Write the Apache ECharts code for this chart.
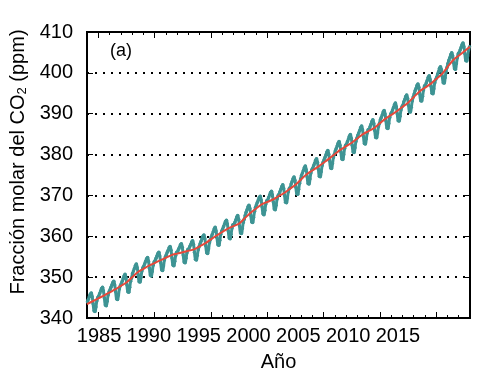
<!DOCTYPE html>
<html>
<head>
<meta charset="utf-8">
<script src="https://cdn.jsdelivr.net/npm/echarts@6/dist/echarts.min.js"></script>
<style>
html,body{margin:0;padding:0;background:#fff;}
#chart{width:492px;height:386px;}
</style>
</head>
<body>
<div id="chart"></div>
<script>
// Monthly global mean CO2 (ppm), Jan 1984 .. Dec 2017
const startYear = 1984;
const co2Monthly = [
344.0,344.6,345.2,345.8,346.1,345.2,343.5,341.8,341.6,342.7,344.2,345.0,
345.4,346.0,346.6,347.2,347.5,346.6,344.9,343.2,343.0,344.1,345.6,346.4,
346.9,347.5,348.1,348.7,349.0,348.1,346.4,344.7,344.5,345.6,347.1,347.9,
348.4,349.0,349.6,350.3,350.7,349.8,348.1,346.4,346.3,347.5,349.0,349.8,
350.9,351.5,352.1,352.8,353.2,352.3,350.6,348.9,348.8,350.0,351.5,352.3,
352.7,353.3,353.9,354.5,354.8,353.9,352.2,350.5,350.3,351.4,352.9,353.7,
354.0,354.6,355.2,355.8,356.1,355.2,353.5,351.8,351.6,352.7,354.2,355.0,
355.5,356.1,356.6,357.2,357.5,356.6,354.7,353.0,352.8,353.9,355.3,356.1,
356.2,356.8,357.3,357.9,358.2,357.3,355.4,353.7,353.5,354.6,356.0,356.8,
356.9,357.5,358.0,358.6,358.9,358.0,356.1,354.4,354.2,355.3,356.7,357.5,
358.2,358.8,359.4,360.0,360.3,359.4,357.7,356.0,355.8,356.9,358.4,359.2,
359.9,360.5,361.1,361.8,362.2,361.3,359.6,357.9,357.8,359.0,360.5,361.3,
361.8,362.4,363.0,363.6,363.9,363.0,361.3,359.6,359.4,360.5,362.0,362.8,
362.8,363.4,364.0,364.7,365.1,364.2,362.5,360.8,360.7,361.9,363.4,364.2,
365.1,365.9,366.5,367.2,367.6,366.8,365.1,363.5,363.4,364.6,366.1,367.1,
367.7,368.3,368.9,369.5,369.8,368.9,367.2,365.5,365.3,366.4,367.9,368.7,
368.9,369.5,370.1,370.7,371.0,370.1,368.4,366.7,366.5,367.6,369.1,369.9,
370.3,370.9,371.5,372.2,372.6,371.7,370.0,368.3,368.2,369.4,370.9,371.7,
372.0,372.8,373.4,374.1,374.5,373.7,372.0,370.4,370.3,371.5,373.0,374.0,
374.9,375.5,376.1,376.8,377.2,376.3,374.6,372.9,372.8,374.0,375.5,376.3,
376.7,377.3,377.9,378.6,379.0,378.1,376.4,374.7,374.6,375.8,377.3,378.1,
378.7,379.3,379.9,380.6,381.0,380.1,378.4,376.7,376.6,377.8,379.3,380.1,
380.9,381.5,382.1,382.8,383.2,382.3,380.6,378.9,378.8,380.0,381.5,382.3,
382.6,383.2,383.8,384.5,384.9,384.0,382.3,380.6,380.5,381.7,383.2,384.0,
384.7,385.3,385.9,386.6,387.0,386.1,384.4,382.7,382.6,383.8,385.3,386.1,
386.2,386.8,387.4,388.1,388.5,387.6,385.9,384.2,384.1,385.3,386.8,387.6,
388.5,389.1,389.7,390.4,390.8,389.9,388.2,386.5,386.4,387.6,389.1,389.9,
390.3,390.9,391.5,392.2,392.6,391.7,390.0,388.3,388.2,389.4,390.9,391.7,
392.1,392.9,393.5,394.2,394.6,393.8,392.1,390.5,390.4,391.6,393.1,394.1,
394.8,395.6,396.2,396.9,397.3,396.5,394.8,393.2,393.1,394.3,395.8,396.8,
397.0,397.6,398.2,398.9,399.3,398.4,396.7,395.0,394.9,396.1,397.6,398.4,
398.9,399.7,400.3,401.1,401.5,400.8,399.1,397.6,397.5,398.8,400.3,401.3,
402.3,403.1,403.7,404.5,404.9,404.2,402.5,401.0,400.9,402.2,403.7,404.7,
405.0,405.6,406.2,406.9,407.3,406.4,404.7,403.0,402.9,404.1,405.6,406.4
];
// Deseasonalised trend (ppm), every half year from 1984.0 to 2018.0
const trendStep = 0.5;
const co2Trend = [
343.4,344.1,344.8,345.5,346.25,347.0,347.85,348.7,349.95,351.2,
352.0,352.8,353.45,354.1,354.75,355.4,355.75,356.1,356.45,356.8,
357.55,358.3,359.25,360.2,361.05,361.9,362.5,363.1,364.4,365.7,
366.75,367.8,368.4,369.0,369.8,370.6,371.6,372.6,373.9,375.2,
376.1,377.0,378.0,379.0,380.1,381.2,382.05,382.9,383.95,385.0,
385.75,386.5,387.65,388.8,389.7,390.6,391.65,392.7,394.05,395.4,
396.35,397.3,398.5,399.7,401.4,403.1,404.2,405.3,406.4
];
const majorTickYears = [1985,1990,1995,2000,2005,2010,2015];
const yearLabels = [1985,1990,1995,2000,2005,2010,2015];
const yTicks = [340,350,360,370,380,390,400,410];

const FONT = "'Liberation Sans', Arial, Helvetica, sans-serif";
const tealData = co2Monthly.map((v, i) => [startYear + (i + 0.5) / 12, v]);
const trendData = co2Trend.map((v, i) => [startYear + i * trendStep, v]);

const chart = echarts.init(document.getElementById('chart'), null, {renderer: 'canvas'});
const plotRect = {left: 87, right: 22, top: 32, bottom: 68};
const minorX = (pos, extra) => Object.assign({
  type: 'value', min: 1984, max: 2018, interval: 1, position: pos,
  axisLine: {show: false},
  axisTick: {show: true, inside: true, length: 3, lineStyle: {color: '#000', width: 1}},
  axisLabel: {show: false}, splitLine: {show: false}
}, extra);
const majorX = (pos, extra) => Object.assign({
  type: 'value', min: 1984, max: 2018, position: pos,
  axisLine: {show: false},
  axisTick: {show: true, inside: true, length: 6, customValues: majorTickYears, lineStyle: {color: '#000', width: 1}},
  axisLabel: {show: false}, splitLine: {show: false}
}, extra);

chart.setOption({
  animation: false,
  backgroundColor: '#fff',
  grid: [
    Object.assign({show: true, borderColor: '#000', borderWidth: 2, backgroundColor: 'transparent', containLabel: false}, plotRect),
    Object.assign({containLabel: false}, plotRect),
    {left: 49.2, right: 44.2, top: 32, bottom: 68, containLabel: false}
  ],
  xAxis: [
    minorX('bottom', {gridIndex: 0, name: 'Año', nameLocation: 'middle', nameGap: 34,
      nameTextStyle: {fontSize: 20, color: '#000', fontFamily: FONT}}),
    minorX('top', {gridIndex: 0}),
    majorX('bottom', {gridIndex: 1}),
    majorX('top', {gridIndex: 1}),
    {
      gridIndex: 2, type: 'value', min: 1980, max: 2020, interval: 5,
      axisLine: {show: false}, axisTick: {show: false}, splitLine: {show: false},
      axisLabel: {
        show: true, fontSize: 20, color: '#000', fontFamily: FONT, margin: 8,
        showMinLabel: false, showMaxLabel: false,
        formatter: v => (yearLabels.indexOf(v) >= 0 ? String(v) : '')
      }
    }
  ],
  yAxis: [
    {
      gridIndex: 0, type: 'value', min: yTicks[0], max: yTicks[yTicks.length - 1], interval: 10, position: 'left',
      axisLine: {show: false},
      axisTick: {show: true, inside: true, length: 6, lineStyle: {color: '#000', width: 1}},
      axisLabel: {fontSize: 20, color: '#000', fontFamily: FONT, margin: 14},
      splitLine: {show: true, lineStyle: {color: '#000', width: 2, type: [2, 6]}}
    },
    {
      gridIndex: 0, type: 'value', min: yTicks[0], max: yTicks[yTicks.length - 1], interval: 10, position: 'right',
      axisLine: {show: false},
      axisTick: {show: true, inside: true, length: 6, lineStyle: {color: '#000', width: 1}},
      axisLabel: {show: false}, splitLine: {show: false}
    },
    {gridIndex: 1, type: 'value', min: 340, max: 410, show: false},
    {gridIndex: 2, type: 'value', min: 340, max: 410, show: false}
  ],
  series: [
    {
      type: 'line', xAxisIndex: 0, yAxisIndex: 0, data: tealData,
      showSymbol: true, symbol: 'circle', symbolSize: 3.5,
      smooth: 0.5,
      itemStyle: {color: '#3e9494'},
      lineStyle: {color: '#3e9494', width: 3},
      z: 2, silent: true
    },
    {
      type: 'line', xAxisIndex: 0, yAxisIndex: 0, data: trendData,
      showSymbol: false, smooth: 0.3,
      lineStyle: {color: '#e6483a', width: 2},
      z: 3, silent: true
    }
  ],
  graphic: [
    {
      type: 'text', x: 18, y: 162, rotation: Math.PI / 2,
      style: {
        x: 0, y: 0,
        text: 'Fracción molar del CO{sub|2} (ppm)',
        fontSize: 20, fontFamily: FONT, fill: '#000',
        align: 'center', verticalAlign: 'middle',
        rich: {sub: {fontSize: 13, fontFamily: FONT, fill: '#000', verticalAlign: 'bottom', padding: [9, 0, 0, 0]}}
      }
    },
    {
      type: 'text', x: 121, y: 51,
      style: {x: 0, y: 0, text: '(a)', fontSize: 18, fontFamily: FONT, fill: '#000', align: 'center', verticalAlign: 'middle'}
    }
  ]
});
</script>
</body>
</html>
